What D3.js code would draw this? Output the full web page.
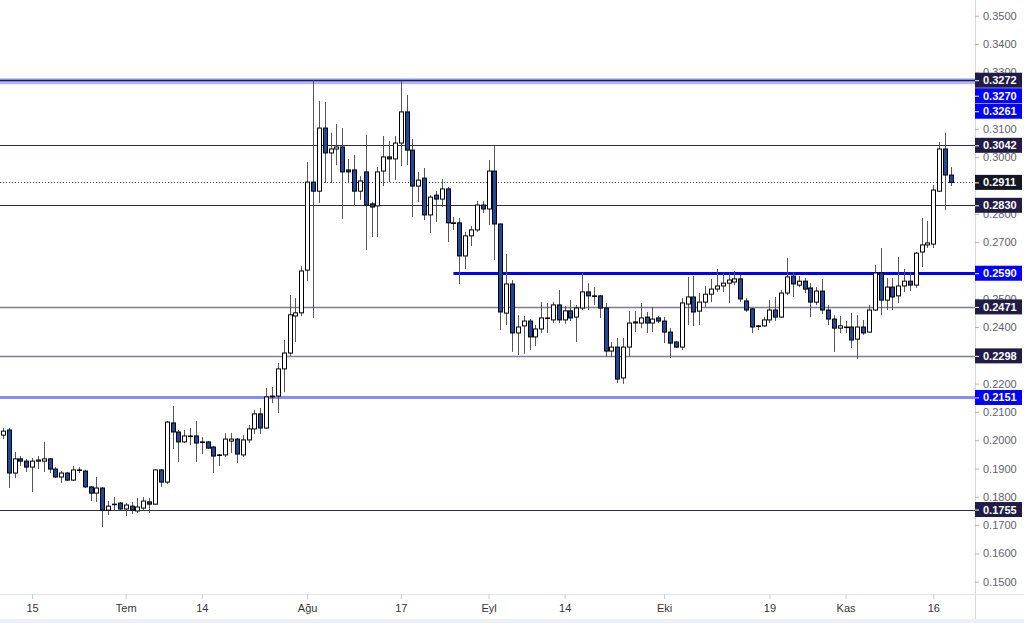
<!DOCTYPE html>
<html><head><meta charset="utf-8">
<script src="https://cdn.jsdelivr.net/npm/d3@7"></script>
<style>html,body{margin:0;padding:0;background:#fff;overflow:hidden}svg{display:block;font-family:"Liberation Sans",Arial,sans-serif}</style>
</head><body><svg id="c" width="1024" height="623"></svg>
<script>
// ---- data (daily candles, 10 Jun -> 19 Nov) ----
const startDate = "2023-06-10";
const opens = [0.2018,0.2036,0.1884,0.1934,0.1926,0.1905,0.1926,0.1926,0.1934,0.1898,
0.1870,0.1884,0.1859,0.1895,0.1891,0.1835,0.1813,0.1831,0.1753,0.1774,
0.1778,0.1757,0.1767,0.1750,0.1760,0.1782,0.1774,0.1895,0.1852,0.2061,
0.2029,0.1994,0.2015,0.2015,0.1994,0.1994,0.1976,0.1948,0.1948,0.1997,
0.2004,0.1948,0.2001,0.2040,0.2093,0.2043,0.2153,0.2156,0.2252,0.2308,
0.2439,0.2450,0.2601,0.2912,0.2880,0.3103,0.3015,0.3029,0.3036,0.2955,
0.2955,0.2880,0.2948,0.2835,0.2828,0.2951,0.3001,0.2994,0.3050,0.3160,
0.3025,0.2898,0.2926,0.2796,0.2866,0.2852,0.2888,0.2768,0.2768,0.2651,
0.2722,0.2743,0.2831,0.2817,0.2951,0.2764,0.2449,0.2552,0.2379,0.2404,
0.2421,0.2365,0.2393,0.2432,0.2425,0.2478,0.2425,0.2457,0.2435,0.2467,
0.2524,0.2510,0.2510,0.2467,0.2315,0.2329,0.2220,0.2329,0.2414,0.2414,
0.2435,0.2414,0.2432,0.2421,0.2382,0.2347,0.2329,0.2481,0.2506,0.2456,
0.2488,0.2516,0.2534,0.2545,0.2555,0.2559,0.2570,0.2492,0.2464,0.2404,
0.2404,0.2425,0.2460,0.2435,0.2520,0.2580,0.2548,0.2562,0.2538,0.2488,
0.2527,0.2460,0.2428,0.2396,0.2400,0.2400,0.2357,0.2400,0.2382,0.2460,
0.2591,0.2495,0.2541,0.2510,0.2545,0.2562,0.2548,0.2665,0.2690,0.2693,
0.2880,0.3029,0.2937];
const highs = [0.2043,0.2043,0.1958,0.1944,0.1934,0.1937,0.1944,0.1994,0.1937,0.1905,
0.1891,0.1888,0.1909,0.1905,0.1895,0.1838,0.1870,0.1835,0.1785,0.1799,
0.1782,0.1778,0.1782,0.1796,0.1799,0.1796,0.1898,0.1898,0.2068,0.2121,
0.2036,0.2036,0.2043,0.2068,0.2011,0.1997,0.1979,0.1951,0.2025,0.2025,
0.2008,0.2018,0.2054,0.2107,0.2114,0.2184,0.2188,0.2273,0.2354,0.2513,
0.2502,0.2615,0.2983,0.3272,0.3199,0.3195,0.3086,0.3117,0.3103,0.2994,
0.3008,0.2933,0.3079,0.2842,0.2965,0.3075,0.3057,0.3075,0.3270,0.3220,
0.3064,0.2948,0.2962,0.2866,0.2881,0.2923,0.2895,0.2789,0.2785,0.2736,
0.2757,0.2845,0.2845,0.2990,0.3039,0.2766,0.2658,0.2566,0.2442,0.2439,
0.2428,0.2407,0.2488,0.2485,0.2488,0.2531,0.2474,0.2495,0.2478,0.2591,
0.2555,0.2541,0.2513,0.2485,0.2347,0.2361,0.2361,0.2456,0.2456,0.2485,
0.2453,0.2471,0.2439,0.2435,0.2396,0.2350,0.2502,0.2577,0.2580,0.2520,
0.2545,0.2570,0.2605,0.2591,0.2591,0.2598,0.2584,0.2502,0.2467,0.2407,
0.2435,0.2495,0.2506,0.2531,0.2644,0.2594,0.2580,0.2573,0.2555,0.2541,
0.2570,0.2478,0.2442,0.2439,0.2421,0.2450,0.2442,0.2425,0.2478,0.2619,
0.2679,0.2573,0.2573,0.2647,0.2605,0.2594,0.2665,0.2785,0.2775,0.2902,
0.3054,0.3086,0.2965];
const lows = [0.2004,0.1831,0.1866,0.1909,0.1888,0.1817,0.1898,0.1888,0.1884,0.1866,
0.1849,0.1856,0.1856,0.1884,0.1831,0.1785,0.1782,0.1693,0.1736,0.1750,
0.1750,0.1732,0.1739,0.1743,0.1753,0.1743,0.1771,0.1835,0.1845,0.1969,
0.1923,0.1990,0.1983,0.1923,0.1951,0.1969,0.1884,0.1909,0.1941,0.1955,
0.1919,0.1941,0.1990,0.2022,0.2022,0.2040,0.2131,0.2096,0.2170,0.2298,
0.2347,0.2439,0.2562,0.2432,0.2838,0.2909,0.2909,0.2972,0.2782,0.2909,
0.2827,0.2849,0.2672,0.2718,0.2718,0.2898,0.2912,0.2919,0.2969,0.2972,
0.2789,0.2842,0.2778,0.2732,0.2771,0.2824,0.2700,0.2743,0.2552,0.2605,
0.2686,0.2736,0.2803,0.2760,0.2637,0.2389,0.2407,0.2312,0.2301,0.2305,
0.2319,0.2333,0.2379,0.2379,0.2414,0.2414,0.2411,0.2421,0.2347,0.2460,
0.2460,0.2478,0.2432,0.2294,0.2294,0.2202,0.2199,0.2294,0.2382,0.2396,
0.2379,0.2382,0.2414,0.2343,0.2290,0.2326,0.2319,0.2407,0.2404,0.2407,
0.2470,0.2488,0.2524,0.2524,0.2485,0.2548,0.2488,0.2453,0.2379,0.2389,
0.2400,0.2414,0.2421,0.2432,0.2513,0.2506,0.2541,0.2520,0.2435,0.2478,
0.2446,0.2407,0.2312,0.2379,0.2379,0.2326,0.2287,0.2372,0.2379,0.2456,
0.2442,0.2460,0.2460,0.2485,0.2524,0.2527,0.2538,0.2612,0.2679,0.2679,
0.2877,0.2813,0.2898];
const closes = [0.2032,0.1884,0.1934,0.1926,0.1905,0.1926,0.1930,0.1934,0.1898,0.1870,
0.1884,0.1859,0.1895,0.1893,0.1835,0.1813,0.1831,0.1753,0.1767,0.1773,
0.1757,0.1771,0.1753,0.1764,0.1785,0.1774,0.1895,0.1852,0.2064,0.2029,
0.1994,0.2015,0.2013,0.1990,0.1992,0.1972,0.1944,0.1946,0.2004,0.2004,
0.1951,0.2001,0.2040,0.2093,0.2043,0.2153,0.2156,0.2252,0.2308,0.2443,
0.2450,0.2598,0.2912,0.2880,0.3103,0.3015,0.3029,0.3036,0.2948,0.2948,
0.2880,0.2916,0.2831,0.2824,0.2948,0.3001,0.2994,0.3050,0.3160,0.3025,
0.2898,0.2919,0.2796,0.2859,0.2852,0.2888,0.2768,0.2766,0.2651,0.2722,
0.2743,0.2831,0.2817,0.2951,0.2764,0.2453,0.2552,0.2379,0.2400,0.2421,
0.2365,0.2393,0.2432,0.2430,0.2478,0.2425,0.2457,0.2432,0.2467,0.2524,
0.2510,0.2508,0.2467,0.2315,0.2329,0.2216,0.2329,0.2414,0.2418,0.2432,
0.2414,0.2428,0.2421,0.2382,0.2343,0.2329,0.2485,0.2506,0.2453,0.2488,
0.2516,0.2534,0.2545,0.2555,0.2566,0.2570,0.2499,0.2460,0.2400,0.2402,
0.2425,0.2460,0.2435,0.2520,0.2577,0.2552,0.2562,0.2534,0.2488,0.2527,
0.2460,0.2428,0.2396,0.2404,0.2400,0.2354,0.2400,0.2379,0.2460,0.2591,
0.2495,0.2541,0.2506,0.2545,0.2562,0.2548,0.2661,0.2690,0.2697,0.2884,
0.3029,0.2937,0.2911];

const xTickDates = ["2023-06-15","2023-07-01","2023-07-14","2023-08-01","2023-08-17","2023-09-01","2023-09-14","2023-10-01","2023-10-19","2023-11-01","2023-11-16"];
const xTickLabels = ["15","Tem","14","Ağu","17","Eyl","14","Eki","19","Kas","16"];
// price-scale ticks that are not hidden behind a price label
const yTickValues = [0.35,0.34,0.33,0.31,0.30,0.28,0.27,0.25,0.24,0.22,0.21,0.20,0.19,0.18,0.17,0.16,0.15];

const levelValues = [0.3272,0.3042,0.2830,0.2590,0.2471,0.2298,0.2151,0.1755];
const levelKinds  = ["zone","dark","dark","blue","grey","grey","lightblue","dark"];
const blueLevelStart = "2023-08-26";
const zoneLow = 0.3261, zoneMid = 0.3270;
const lastPrice = 0.2911;

// ---- layout ----
const W = 1024, H = 623, plotR = 975, plotB = 594;
const parse = d3.utcParse("%Y-%m-%d");
const start = parse(startDate);
const dates = closes.map((_, i) => d3.utcDay.offset(start, i));
const candles = dates.map((d, i) => ({d, o: opens[i], h: highs[i], l: lows[i], c: closes[i]}));

const x = d3.scaleUtc().domain([start, dates[dates.length - 1]]).range([2.8, 950.9]);
const y = d3.scaleLinear().domain([0.15, 0.35]).range([581.7, 15.7]);

const svg = d3.select("#c");
svg.append("rect").attr("width", W).attr("height", H).attr("fill", "#fff");

const defs = svg.append("defs");
defs.append("clipPath").attr("id", "plot").append("rect").attr("x", 0).attr("y", 0).attr("width", plotR).attr("height", plotB);

const plot = svg.append("g").attr("clip-path", "url(#plot)");

const levelStyle = {
  dark: {c: "#2e2b52", w: 1},
  grey: {c: "#7d7b9c", w: 1.3},
  blue: {c: "#0000ff", w: 3},
  lightblue: {c: "#8a8aff", w: 3},
  zone: {c: "#1f1b4a", w: 1.4}
};
// zone band
plot.append("rect").attr("x", 0).attr("width", plotR)
  .attr("y", y(0.3279)).attr("height", y(zoneLow - 0.0003) - y(0.3279))
  .attr("fill", "#b3b3ff");
levelValues.forEach((v, i) => {
  const s = levelStyle[levelKinds[i]];
  const x0 = levelKinds[i] === "blue" ? x(parse(blueLevelStart)) : 0;
  plot.append("line").attr("x1", x0).attr("x2", plotR)
    .attr("y1", Math.round(y(v)) + 0.5).attr("y2", Math.round(y(v)) + 0.5)
    .attr("stroke", s.c).attr("stroke-width", s.w);
});
plot.append("line").attr("x1", 0).attr("x2", plotR)
  .attr("y1", Math.round(y(lastPrice)) + 0.5).attr("y2", Math.round(y(lastPrice)) + 0.5)
  .attr("stroke", "#444").attr("stroke-width", 1).attr("stroke-dasharray", "1,2");

// candles
const bw = 4;
const cg = plot.append("g");
cg.selectAll("line.w").data(candles).join("line")
  .attr("x1", d => Math.round(x(d.d)) + 0.5).attr("x2", d => Math.round(x(d.d)) + 0.5)
  .attr("y1", d => y(d.h)).attr("y2", d => y(d.l))
  .attr("stroke", "#555").attr("stroke-width", 1);
cg.selectAll("rect.b").data(candles).join("rect")
  .attr("x", d => Math.round(x(d.d)) - bw / 2 + 0.5)
  .attr("width", bw)
  .attr("y", d => y(Math.max(d.o, d.c)))
  .attr("height", d => Math.max(0.6, Math.abs(y(d.o) - y(d.c))))
  .attr("fill", d => d.c >= d.o ? "#ffffff" : "#1a4a9e")
  .attr("stroke", "#000").attr("stroke-width", 1);

// axes frame
svg.append("line").attr("x1", plotR + 0.5).attr("x2", plotR + 0.5).attr("y1", 0).attr("y2", H).attr("stroke", "#d6d9e0");
svg.append("line").attr("x1", 0).attr("x2", W).attr("y1", plotB + 0.5).attr("y2", plotB + 0.5).attr("stroke", "#e0e3eb");
svg.append("rect").attr("x", 0).attr("y", 619).attr("width", W).attr("height", 4).attr("fill", "#eef0f5");

// y axis ticks
const ya = svg.append("g").attr("transform", `translate(${plotR},0)`)
  .call(d3.axisRight(y).tickValues(yTickValues).tickFormat(d3.format(".4f")).tickSize(4).tickPadding(4));
ya.select(".domain").remove();
ya.selectAll(".tick line").attr("stroke", "#b2b5be");
ya.selectAll(".tick text").attr("fill", "#5d606b").attr("font-size", 11).attr("font-family", '"Liberation Sans",Arial,sans-serif');

// x axis
const xa = svg.append("g").attr("transform", `translate(0,${plotB})`)
  .call(d3.axisBottom(x).tickValues(xTickDates.map(parse)).tickFormat((d, i) => xTickLabels[i]).tickSize(5).tickPadding(5));
xa.select(".domain").remove();
xa.selectAll(".tick line").attr("stroke", "#c8cbd3");
xa.selectAll(".tick text").attr("fill", "#333").attr("font-size", 11).attr("font-family", '"Liberation Sans",Arial,sans-serif');

// price labels
function priceLabel(v, cy, fill) {
  const g = svg.append("g").attr("transform", `translate(${plotR},${cy})`);
  g.append("rect").attr("x", 0).attr("y", -7.5).attr("width", 47).attr("height", 15).attr("fill", fill);
  g.append("line").attr("x1", 0).attr("x2", 4).attr("y1", 0.5).attr("y2", 0.5).attr("stroke", "#fff");
  g.append("text").attr("x", 8).attr("y", 4).attr("fill", "#fff").attr("font-size", 11)
    .attr("font-weight", "bold").text(d3.format(".4f")(v));
}
const navy = "#211c45", blueLbl = "#0000ff";
const labelFill = {zone: navy, dark: navy, grey: navy, blue: blueLbl, lightblue: blueLbl};
levelValues.forEach((v, i) => priceLabel(v, y(v), labelFill[levelKinds[i]]));
priceLabel(zoneMid, y(levelValues[0]) + 15.5, blueLbl);
priceLabel(zoneLow, y(levelValues[0]) + 31, blueLbl);
priceLabel(lastPrice, y(lastPrice), "#131722");
</script></body></html>
